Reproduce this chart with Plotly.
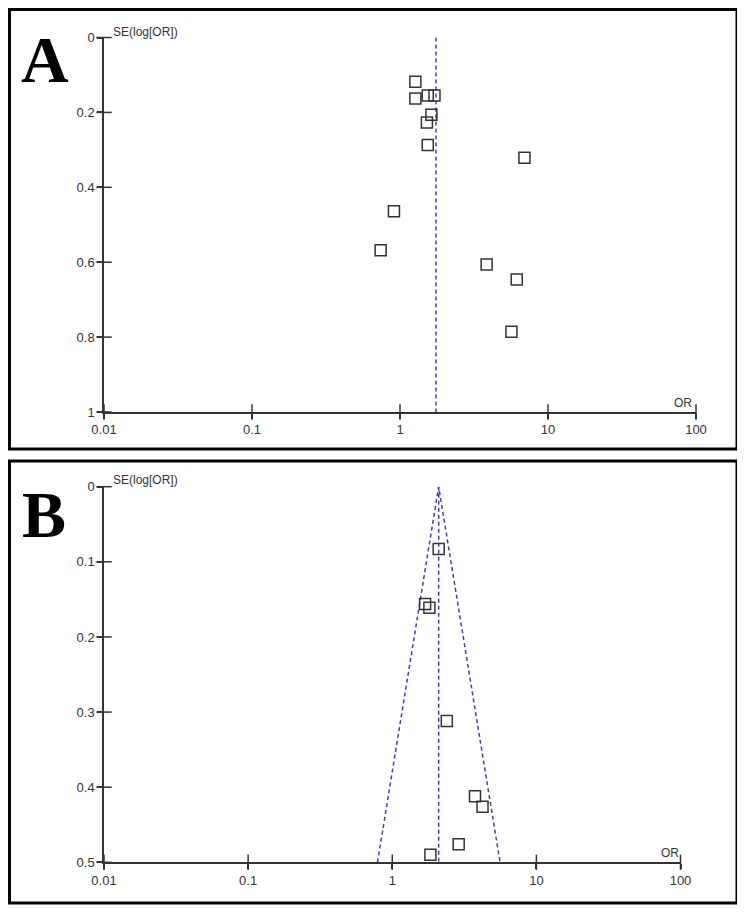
import plotly.graph_objects as go

# panel A : tous les etudes
or_a = [1.27, 1.27, 1.54, 1.71, 1.63, 1.52, 1.54, 6.93, 0.91, 0.74, 3.85, 6.15, 5.66]
se_a = [0.118, 0.163, 0.155, 0.155, 0.206, 0.227, 0.287, 0.321, 0.464, 0.568, 0.606, 0.646, 0.786]
pooled_a = 1.75

# panel B : etudes restantes + entonnoir
or_b = [2.10, 1.69, 1.81, 2.39, 3.75, 4.23, 2.89, 1.84]
se_b = [0.083, 0.156, 0.161, 0.312, 0.412, 0.426, 0.476, 0.490]
pooled_b = 2.10
funnel_or_b = [0.79, 2.10, 5.6]
funnel_se_b = [0.5, 0.0, 0.5]

x_ticks = [0.01, 0.1, 1, 10, 100]
x_labels = ["0.01", "0.1", "1", "10", "100"]
y_ticks_a = [0, 0.2, 0.4, 0.6, 0.8, 1]
y_labels_a = ["0", "0.2", "0.4", "0.6", "0.8", "1"]
y_ticks_b = [0, 0.1, 0.2, 0.3, 0.4, 0.5]
y_labels_b = ["0", "0.1", "0.2", "0.3", "0.4", "0.5"]

# la page a une marge de 8px autour de la figure
OFF = 8
W, H = 745 - OFF, 912 - OFF


def px(x):
    return (x - OFF) / W


def py(y):
    return 1 - (y - OFF) / H


dash_col = "#3f3fb5"
ax_col = "#333333"
font_tick = dict(family="Liberation Sans, Arial", size=13, color=ax_col)

fig = go.Figure()


def add_panel(fig, xr, yr, ors, ses, ymax, yt):
    # petites croix des graduations
    fig.add_trace(go.Scatter(x=x_ticks, y=[ymax] * len(x_ticks), mode="markers",
                             marker=dict(symbol="line-ns", size=11, line=dict(color=ax_col, width=1.5)),
                             xaxis=xr, yaxis=yr, cliponaxis=False, hoverinfo="skip", showlegend=False))
    fig.add_trace(go.Scatter(x=[x_ticks[0]] * len(yt), y=yt, mode="markers",
                             marker=dict(symbol="line-ew", size=11, line=dict(color=ax_col, width=1.5)),
                             xaxis=xr, yaxis=yr, cliponaxis=False, hoverinfo="skip", showlegend=False))
    # etudes
    fig.add_trace(go.Scatter(x=ors, y=ses, mode="markers",
                             marker=dict(symbol="square-open", size=11, color=ax_col,
                                         line=dict(color=ax_col, width=1.5)),
                             xaxis=xr, yaxis=yr, cliponaxis=False, showlegend=False))


# lignes en pointilles
dash_line = dict(color=dash_col, width=1.5, dash="4px,3px")
fig.add_trace(go.Scatter(x=[pooled_a, pooled_a], y=[0, 1], mode="lines", line=dash_line,
                         xaxis="x", yaxis="y", showlegend=False, hoverinfo="skip"))
fig.add_trace(go.Scatter(x=[pooled_b, pooled_b], y=[0, 0.5], mode="lines", line=dash_line,
                         xaxis="x2", yaxis="y2", showlegend=False, hoverinfo="skip"))
fig.add_trace(go.Scatter(x=funnel_or_b, y=funnel_se_b, mode="lines", line=dash_line,
                         xaxis="x2", yaxis="y2", showlegend=False, hoverinfo="skip"))

add_panel(fig, "x", "y", or_a, se_a, 1, y_ticks_a)
add_panel(fig, "x2", "y2", or_b, se_b, 0.5, y_ticks_b)


def x_axis(domain, anchor):
    return dict(type="log", range=[-2, 2], domain=domain, anchor=anchor, automargin=False,
                showgrid=False, zeroline=False, showline=True, linecolor=ax_col, linewidth=1.5,
                ticks="outside", ticklen=5, tickwidth=1.5, tickcolor=ax_col,
                tickvals=x_ticks, ticktext=x_labels, tickfont=font_tick)


def y_axis(domain, anchor, rng, tv, tt):
    return dict(range=rng, domain=domain, anchor=anchor, automargin=False,
                showgrid=False, zeroline=False, showline=True, linecolor=ax_col, linewidth=1.5,
                ticks="outside", ticklen=5, tickwidth=1.5, tickcolor=ax_col,
                tickvals=tv, ticktext=tt, tickfont=font_tick)


fig.update_layout(
    width=W, height=H,
    margin=dict(l=0, r=0, t=0, b=0),
    paper_bgcolor="white", plot_bgcolor="white",
    xaxis=x_axis([px(104), px(696)], "y"),
    yaxis=y_axis([py(412), py(37.5)], "x", [1, 0], y_ticks_a, y_labels_a),
    xaxis2=x_axis([px(104), px(680.5)], "y2"),
    yaxis2=y_axis([py(862.3), py(486.7)], "x2", [0.5, 0], y_ticks_b, y_labels_b),
    shapes=[
        dict(type="rect", xref="paper", yref="paper", x0=px(9.5), x1=px(737),
             y0=py(449), y1=py(9.5), line=dict(color="black", width=3)),
        dict(type="rect", xref="paper", yref="paper", x0=px(9.5), x1=px(737),
             y0=py(903), y1=py(461), line=dict(color="black", width=3)),
    ],
)

label_font = dict(family="Liberation Sans, Arial", size=12, color=ax_col)
letter_font = dict(family="Liberation Serif, Times New Roman", size=66, color="black")
annots = [
    dict(text="<b>A</b>", x=px(45), y=py(60), font=letter_font),
    dict(text="<b>B</b>", x=px(44), y=py(515), font=letter_font),
    dict(text="SE(log[OR])", x=px(111), y=py(32), xanchor="left", font=label_font),
    dict(text="SE(log[OR])", x=px(111), y=py(480), xanchor="left", font=label_font),
    dict(text="OR", x=px(683), y=py(403), font=label_font),
    dict(text="OR", x=px(670), y=py(853), font=label_font),
]
for a in annots:
    a.setdefault("xanchor", "center")
    fig.add_annotation(xref="paper", yref="paper", yanchor="middle", showarrow=False, **a)

fig.write_html("out.html")
